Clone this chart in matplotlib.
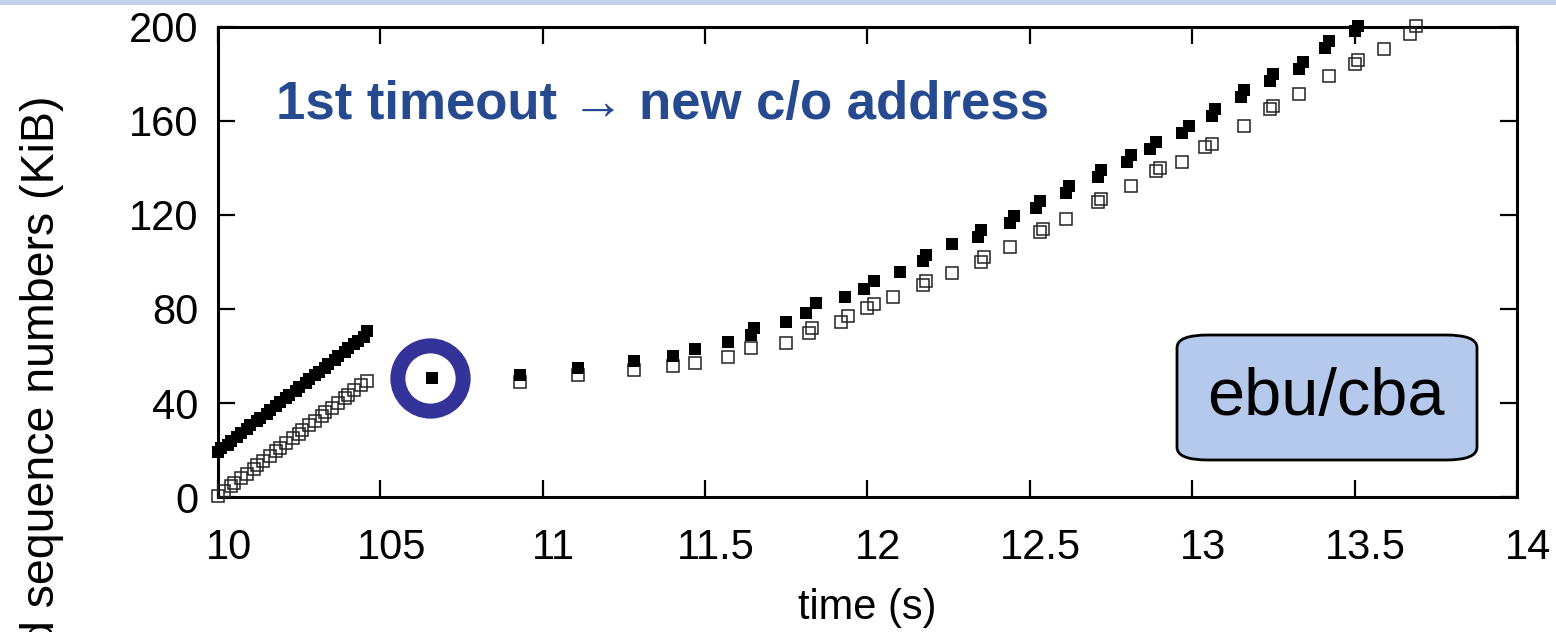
import matplotlib.pyplot as plt
import matplotlib.transforms as mtransforms
from matplotlib.patches import FancyBboxPatch, Rectangle

plt.rcParams['font.family'] = ['Liberation Sans', 'DejaVu Sans']

# sent segments (filled squares), before the handover
sent_x_a = [10.00, 10.01, 10.03, 10.04, 10.06, 10.07, 10.09, 10.10, 10.12, 10.13,
            10.15, 10.16, 10.18, 10.19, 10.21, 10.22, 10.24, 10.25, 10.27, 10.28,
            10.30, 10.31, 10.33, 10.34, 10.36, 10.37, 10.39, 10.40, 10.42, 10.43,
            10.45, 10.46]
sent_y_a = [19.0, 20.8, 22.3, 24.0, 25.6, 27.2, 29.0, 30.5, 32.3, 33.8,
            35.5, 37.0, 38.8, 40.3, 42.0, 43.6, 45.3, 46.9, 48.5, 50.2,
            51.8, 53.4, 55.1, 56.7, 58.3, 60.0, 61.6, 63.2, 64.9, 66.5,
            68.2, 70.8]

# sent segments after the timeout
sent_x_b = [10.66, 10.93, 11.11, 11.28, 11.40, 11.47, 11.57, 11.64, 11.65, 11.75,
            11.81, 11.84, 11.93, 11.99, 12.02, 12.10, 12.17, 12.18, 12.26, 12.34,
            12.35, 12.44, 12.45, 12.52, 12.53, 12.61, 12.62, 12.71, 12.72, 12.80,
            12.81, 12.87, 12.89, 12.97, 12.99, 13.06, 13.07, 13.15, 13.16, 13.24,
            13.25, 13.33, 13.34, 13.41, 13.42, 13.50, 13.51]
sent_y_b = [50.7, 52.0, 55.0, 58.0, 60.1, 63.1, 66.1, 69.1, 72.1, 74.6,
            78.5, 82.7, 85.3, 88.3, 92.1, 95.7, 100.5, 103.0, 107.5, 110.5,
            113.5, 116.5, 119.5, 123.0, 126.0, 129.5, 132.5, 136.0, 139.0, 142.5,
            145.5, 148.0, 151.0, 155.0, 158.0, 162.0, 165.0, 170.0, 173.0, 177.0,
            180.0, 182.0, 185.0, 191.0, 194.0, 198.5, 200.5]

# acked segments (open squares)
ack_x_a = [10.00, 10.02, 10.04, 10.05, 10.07, 10.09, 10.11, 10.12, 10.14, 10.16,
           10.18, 10.19, 10.21, 10.23, 10.25, 10.26, 10.28, 10.30, 10.32, 10.33,
           10.35, 10.37, 10.39, 10.40, 10.42, 10.44, 10.46]
ack_y_a = [0.5, 2.5, 4.5, 6.0, 8.0, 10.0, 12.0, 13.5, 15.5, 17.5,
           19.5, 21.0, 23.0, 25.0, 27.0, 28.5, 30.5, 32.5, 34.5, 36.0,
           38.0, 40.0, 42.0, 43.5, 45.5, 47.5, 49.5]

ack_x_b = [10.93, 11.11, 11.28, 11.40, 11.47, 11.57, 11.64, 11.75, 11.82, 11.83,
           11.92, 11.94, 12.00, 12.02, 12.08, 12.17, 12.18, 12.26, 12.35, 12.36,
           12.44, 12.53, 12.54, 12.61, 12.71, 12.72, 12.81, 12.89, 12.90, 12.97,
           13.04, 13.06, 13.16, 13.24, 13.25, 13.33, 13.42, 13.50, 13.51, 13.59,
           13.67, 13.69]
ack_y_b = [49.0, 52.0, 54.0, 55.9, 57.1, 59.7, 63.5, 65.7, 69.9, 72.0,
           74.6, 77.0, 80.6, 82.0, 85.3, 90.4, 92.0, 95.5, 100.2, 102.0,
           106.2, 112.6, 114.0, 118.1, 125.4, 127.0, 132.2, 138.6, 140.0, 142.4,
           148.8, 150.0, 157.8, 165.0, 166.5, 171.4, 179.0, 184.2, 186.0, 190.6,
           197.0, 200.5]

# the highlighted packet
mark_x = 10.654
mark_y = 50.7

x_ticks = [10, 10.5, 11, 11.5, 12, 12.5, 13, 13.5, 14]
x_tick_labels = ['10', '105', '11', '11.5', '12', '12.5', '13', '13.5', '14']
y_ticks = [0, 40, 80, 120, 160, 200]

fig = plt.figure(figsize=(15.56, 6.32), dpi=100)
ax = fig.add_axes([0.1401, 0.2136, 0.8348, 0.7437])

ax.plot(ack_x_a + ack_x_b, ack_y_a + ack_y_b, linestyle='none', marker='s',
        markersize=8.2, markerfacecolor='none', markeredgecolor='#222222',
        markeredgewidth=1.1, clip_on=False, zorder=3)
ax.plot(sent_x_a + sent_x_b, sent_y_a + sent_y_b, linestyle='none', marker='s',
        markersize=8.8, color='black', markeredgewidth=0, clip_on=False, zorder=4)
ax.plot([mark_x], [mark_y], linestyle='none', marker='o', markersize=47,
        markerfacecolor='none', markeredgecolor='#333399', markeredgewidth=10.8,
        zorder=2)

ax.set_xlim(10, 14)
ax.set_ylim(0, 200)
ax.set_xticks(x_ticks)
ax.set_xticklabels(x_tick_labels)
ax.set_yticks(y_ticks)
ax.tick_params(direction='in', length=12, width=1.6, labelsize=30,
               top=True, right=True)
ax.tick_params(axis='x', pad=22)
ax.tick_params(axis='y', pad=14)
for s in ax.spines.values():
    s.set_linewidth(2.2)

shift = mtransforms.ScaledTranslation(11 / 100, 0, fig.dpi_scale_trans)
for lab in ax.get_xticklabels():
    lab.set_transform(lab.get_transform() + shift)

ax.set_xlabel('time (s)', fontsize=30, labelpad=15)
fig.text(0.027, 1 - 95 / 632, 'd sequence numbers (KiB)', fontsize=33.5,
         rotation=90, rotation_mode='anchor', ha='right', va='center')

ax.text(10.18, 167, '1st timeout \u2192 new c/o address', fontsize=38,
        fontweight='bold', color='#264a8f', va='center', ha='left')

box = FancyBboxPatch((1177 / 1556, 1 - 460 / 632), 300 / 1556, 125 / 632,
                     boxstyle='round,pad=0,rounding_size=0.02',
                     transform=fig.transFigure, facecolor='#b4c9ec',
                     edgecolor='black', linewidth=2, zorder=5)
fig.add_artist(box)
fig.text(1326 / 1556, 1 - 398 / 632, 'ebu/cba', fontsize=48, ha='center',
         va='center', zorder=6)

# slide ruler strip along the top edge
fig.add_artist(Rectangle((0, 1 - 5 / 632), 1, 5 / 632, transform=fig.transFigure,
                         facecolor='#c3d3ee', edgecolor='none'))

fig.savefig('out.png', dpi=100)
